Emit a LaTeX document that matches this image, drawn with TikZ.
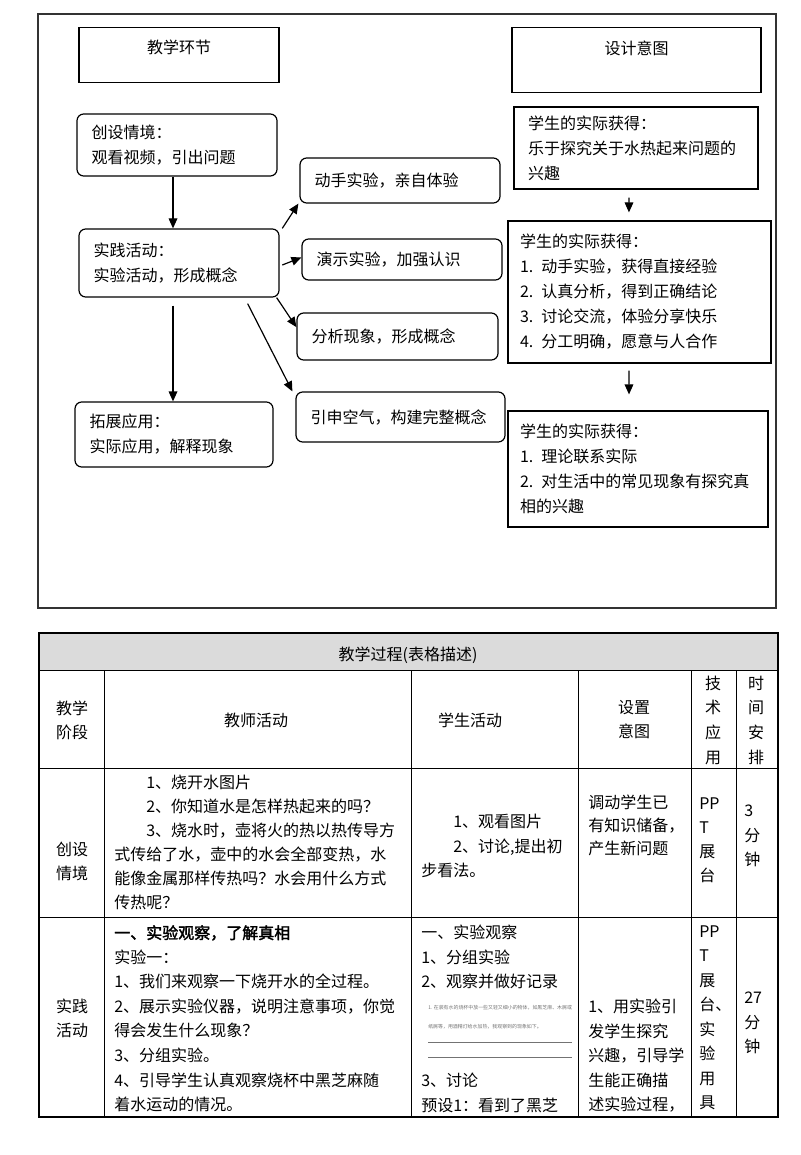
\documentclass[tikz,border=0pt]{standalone}
\usepackage{fontspec}
\setmainfont{Noto Sans CJK SC}[BoldFont=Noto Sans CJK SC,BoldFeatures={FakeBold=2}]
\usetikzlibrary{arrows.meta}
\definecolor{headgray}{gray}{0.86}
\definecolor{notegray}{gray}{0.45}
\begin{document}
\begin{tikzpicture}[
  x=0.75pt,y=-0.75pt,
  >={Triangle[length=7.5pt,width=6.5pt]},
  font=\fontsize{12}{18.75}\selectfont,
  headbox/.style={draw,line width=0.9pt,inner sep=0pt,anchor=north},
  stagebox/.style={draw,rounded corners=5pt,line width=0.9pt,align=left,inner xsep=11pt,inner ysep=0pt},
  gainbox/.style={draw,line width=0.9pt,align=left,inner xsep=9pt,inner ysep=0pt},
  link/.style={->,line width=0.9pt},
  cell/.style={inner sep=0pt,anchor=north west,align=left,font=\fontsize{12}{18.4}\selectfont},
  mid/.style={inner sep=0pt,align=center,font=\fontsize{12}{18}\selectfont},
  grid/.style={line width=0.6pt}
]
\useasboundingbox (0,0) rectangle (800,1155);

% upper part: flow chart
\draw[line width=0.9pt,black!80] (38,14) rectangle (776,608);

\node[headbox,minimum width=150pt,text height=19.5pt,text depth=21.75pt] (stagehead) at (179,27) {教学环节};
\node[headbox,minimum width=186.75pt,text height=20.25pt,text depth=28.5pt] (intenthead) at (636.5,27) {设计意图};

\node[stagebox,minimum width=150pt,text width=128pt,minimum height=46.5pt] (scene) at (177,145) {创设情境：\\观看视频，引出问题};
\node[stagebox,minimum width=150pt,text width=128pt,minimum height=51pt] (practice) at (179,263) {实践活动：\\实验活动，形成概念};
\node[stagebox,minimum width=148.5pt,text width=126.5pt,minimum height=48.75pt] (extend) at (174,434.5) {拓展应用：\\实际应用，解释现象};

\node[stagebox,minimum width=150pt,text width=128pt,minimum height=33.75pt] (handson) at (400,180.5) {动手实验，亲自体验};
\node[stagebox,minimum width=150pt,text width=128pt,minimum height=30.75pt] (demo) at (402,259.5) {演示实验，加强认识};
\node[stagebox,minimum width=150.75pt,text width=128.75pt,minimum height=35.25pt] (analyse) at (397.5,336.5) {分析现象，形成概念};
\node[stagebox,minimum width=156.75pt,text width=134.75pt,minimum height=37.5pt] (air) at (400.5,417) {引申空气，构建完整概念};

\node[gainbox,minimum width=183pt,text width=162pt,minimum height=61.5pt,inner xsep=10.5pt] (gain1) at (636,148) {学生的实际获得：\\乐于探究关于水热起来问题的\\兴趣};
\node[gainbox,minimum width=197.25pt,text width=179.25pt,minimum height=106.5pt] (gain2) at (639.5,292) {学生的实际获得：\\1. 动手实验，获得直接经验\\2. 认真分析，得到正确结论\\3. 讨论交流，体验分享快乐\\4. 分工明确，愿意与人合作};
\node[gainbox,minimum width=195pt,text width=177pt,minimum height=87pt] (gain3) at (638,469) {学生的实际获得：\\1. 理论联系实际\\2. 对生活中的常见现象有探究真\\相的兴趣};

\draw[link] ([xshift=-3pt]scene.south) -- ([xshift=-4.5pt]practice.north);
\draw[link] ([xshift=-4.5pt,yshift=-6pt]practice.south) -- ([xshift=-0.75pt]extend.north);
\draw[link] ([xshift=2pt]practice.north east) -- ([xshift=-0.75pt]handson.south west);
\draw[link] ([xshift=2pt,yshift=-1.5pt]practice.east) -- ([yshift=1.5pt]demo.west);
\draw[link] ([xshift=-2.25pt]practice.south east) -- ([yshift=7pt]analyse.west);
\draw[link] ([xshift=-24pt,yshift=-4.5pt]practice.south east) -- ([xshift=-2.25pt]air.north west);
\draw[link] ([xshift=-5.25pt,yshift=-6pt]gain1.south) -- ([xshift=-7.9pt,yshift=6pt]gain2.north);
\draw[link] ([xshift=-7.9pt,yshift=-5.25pt]gain2.south) -- ([xshift=-6.75pt,yshift=12pt]gain3.north);

% lower part: table
\fill[headgray] (39,633) rectangle (778,670);
\foreach \y in {670,768,917}
  \draw[grid] (39,\y) -- (778,\y);
\foreach \x in {104,411,578,691,736}
  \draw[grid] (\x,670) -- (\x,1117);
\draw[line width=1.1pt] (39,633) rectangle (778,1117);

\node[mid] (title) at (408,655) {教学过程(表格描述)};
\node[mid] (hstage) at (72,720) {教学\\阶段};
\node[mid] (hteacher) at (256,720) {教师活动};
\node[mid] (hstudent) at (470,720) {学生活动};
\node[mid] (hintent) at (634,720) {设置\\意图};
\node[mid,font=\fontsize{12}{18.5}\selectfont] (htech) at (713,720) {技\\术\\应\\用};
\node[mid,font=\fontsize{12}{18.5}\selectfont] (htime) at (756,720) {时\\间\\安\\排};

% row 1
\node[mid] (stage1) at (72,861) {创设\\情境};
\node[cell,font=\fontsize{12}{17.9}\selectfont] (teacher1) at (114,775) {\hspace*{24pt}1、烧开水图片\\\hspace*{24pt}2、你知道水是怎样热起来的吗？\\\hspace*{24pt}3、烧水时，壶将火的热以热传导方\\式传给了水，壶中的水会全部变热，水\\能像金属那样传热吗？水会用什么方式\\传热呢？};
\node[cell] (student1) at (421,814) {\hspace*{24pt}1、观看图片\\\hspace*{24pt}2、讨论,提出初\\步看法。};
\node[cell,font=\fontsize{12}{17.3}\selectfont] (intent1) at (588,795) {调动学生已\\有知识储备，\\产生新问题};
\node[cell,font=\fontsize{12}{18}\selectfont] (tech1) at (699,797) {PP\\T\\展\\台};
\node[cell] (time1) at (744,805) {3\\分\\钟};

% row 2
\node[mid] (stage2) at (72,1018.5) {实践\\活动};
\node[cell] (teacher2) at (114,925) {\textbf{一、实验观察，了解真相}\\实验一：\\1、我们来观察一下烧开水的全过程。\\2、展示实验仪器，说明注意事项，你觉\\得会发生什么现象？\\3、分组实验。\\4、引导学生认真观察烧杯中黑芝麻随\\着水运动的情况。};
\node[cell] (student2) at (421,925) {一、实验观察\\1、分组实验\\2、观察并做好记录};
\node[cell,font=\fontsize{3.7}{14}\selectfont,text=notegray] (note) at (428,1005) {1. 在装有水的烧杯中放一些又轻又细小的物体，如黑芝麻、木屑或\\纸屑等，用酒精灯给水加热，我观察到的现象如下。};
\draw[notegray,line width=0.6pt] (428,1042) -- (572,1042);
\draw[notegray,line width=0.6pt] (428,1057) -- (572,1057);
\node[cell] (student2b) at (421,1073) {3、讨论\\预设1：看到了黑芝};
\node[cell] (intent2) at (588,999) {1、用实验引\\发学生探究\\兴趣，引导学\\生能正确描\\述实验过程，};
\node[cell] (tech2) at (699,925) {PP\\T\\展\\台、\\实\\验\\用\\具};
\node[cell] (time2) at (744,992) {27\\分\\钟};
\end{tikzpicture}
\end{document}
